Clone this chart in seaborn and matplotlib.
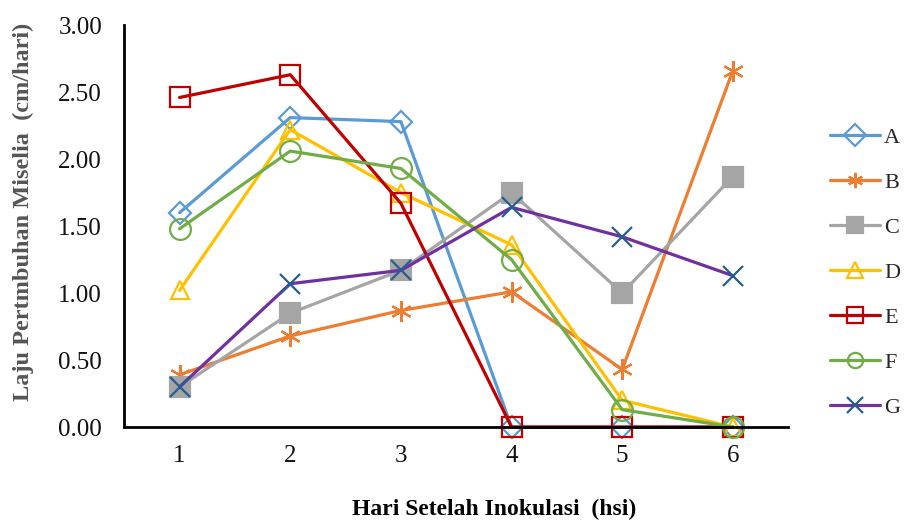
import matplotlib
matplotlib.use("Agg")
import matplotlib.pyplot as plt
import seaborn as sns

# days after inoculation
days = [1, 2, 3, 4, 5, 6]

# growth rate of mycelium (cm/day) per treatment
A = [1.60, 2.31, 2.28, 0.00, 0.00, 0.00]
B = [0.39, 0.68, 0.87, 1.01, 0.43, 2.66]
C = [0.30, 0.85, 1.17, 1.75, 1.00, 1.87]
D = [1.02, 2.22, 1.75, 1.36, 0.20, 0.00]
E = [2.46, 2.63, 1.67, 0.00, 0.00, 0.00]
F = [1.48, 2.06, 1.93, 1.25, 0.13, 0.00]
G = [0.30, 1.07, 1.17, 1.64, 1.42, 1.13]

names = ["A", "B", "C", "D", "E", "F", "G"]
series = [A, B, C, D, E, F, G]
y_ticks = [0.0, 0.5, 1.0, 1.5, 2.0, 2.5, 3.0]

# style per series: line colour, marker, marker edge, marker face, size
styles = {
    "A": dict(color="#5B9BD5", marker="D", mec="#5B9BD5", mfc="none", ms=11),
    "B": dict(color="#ED7D31", marker=(6, 2, 0), mec="#ED7D31", mfc="none", ms=15),
    "C": dict(color="#A5A5A5", marker="s", mec="#A5A5A5", mfc="#A5A5A5", ms=15),
    "D": dict(color="#FFC000", marker="^", mec="#FFC000", mfc="none", ms=13),
    "E": dict(color="#C00000", marker="s", mec="#C00000", mfc="none", ms=15),
    "F": dict(color="#70AD47", marker="o", mec="#70AD47", mfc="none", ms=15),
    "G": dict(color="#7030A0", marker="x", mec="#255E91", mfc="none", ms=15),
}

sns.set_style("white")
plt.rcParams["font.family"] = ["Liberation Serif", "DejaVu Serif"]

fig = plt.figure(figsize=(9.07, 5.24), dpi=100)
ax = fig.add_axes([0.137, 0.185, 0.732, 0.767])

for name, vals in zip(names, series):
    st = styles[name]
    sns.lineplot(x=days, y=vals, ax=ax, label=name, color=st["color"],
                 marker=st["marker"], markeredgecolor=st["mec"],
                 markerfacecolor=st["mfc"], markersize=st["ms"],
                 markeredgewidth=1.6, linewidth=2.3)

ax.set_xlim(0.5, 6.5)
ax.set_ylim(0, 3.0)
ax.set_xticks(days)
ax.set_yticks(y_ticks)
ax.set_yticklabels([f"{v:.2f}" for v in y_ticks])
ax.tick_params(axis="both", labelsize=18, length=0, colors="#111111")
ax.tick_params(axis="x", pad=13)
ax.tick_params(axis="y", pad=16)
for lab in ax.get_xticklabels() + ax.get_yticklabels():
    lab.set_color("#111111")

sns.despine(ax=ax, top=True, right=True)
for side in ["left", "bottom"]:
    ax.spines[side].set_color("black")
    ax.spines[side].set_linewidth(2)
for ln in ax.lines:
    ln.set_clip_on(False)

ax.set_xlabel("")
ax.set_ylabel("")
fig.text(0.545, 0.027, "Hari Setelah Inokulasi  (hsi)", ha="center", va="center",
         fontsize=17, fontweight="bold", color="black")
fig.text(0.026, 0.595, "Laju Pertmbuhan Miselia  (cm/hari)", ha="center", va="center",
         rotation=90, fontsize=17.5, fontweight="bold", color="#555555")

leg = ax.legend(loc="upper left", bbox_to_anchor=(0.905, 0.774),
                bbox_transform=fig.transFigure, frameon=False, fontsize=16,
                labelspacing=1.1, handlelength=2.25, handletextpad=0.2,
                borderaxespad=0)
for h in leg.legend_handles:
    h.set_markersize(11)

fig.savefig("out.png", dpi=100)
